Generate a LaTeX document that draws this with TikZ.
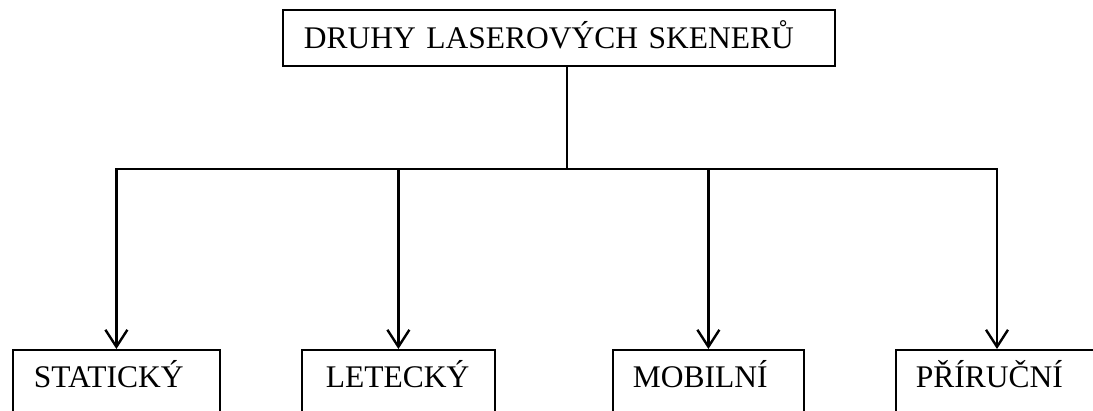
\documentclass[tikz,border=0pt]{standalone}
\usepackage{fontspec}
\setmainfont{Liberation Serif}
\usetikzlibrary{arrows.meta}

\tikzset{
  kind/.style={draw, line width=1.8pt, anchor=north west, inner xsep=21pt,
    inner ysep=0pt, align=left, font=\fontsize{31.5}{36}\selectfont,
    text height=38pt, text depth=60pt},
  branch/.style={line width=2.4pt},
  arr/.style={line width=2.4pt, -{Straight Barb[length=17pt,width=22pt]}}
}

\begin{document}
\begin{tikzpicture}[x=1pt,y=1pt]
        \clip (0,0) rectangle (1093,-411);
        % main box
        \node[kind, text height=39pt, text depth=17pt, text width=510pt] (druhy) at (282,-9) {DRUHY LASEROVÝCH SKENERŮ};
        % kinds
        \node[kind, text width=165pt] (stat) at (12,-349) {STATICKÝ};
        \node[kind, inner xsep=24pt, text width=145pt] (letec) at (301,-349) {LETECKÝ};
        \node[kind, inner xsep=20pt, text width=151pt] (mob) at (612,-349) {MOBILNÍ};
        \node[kind, inner xsep=20pt, text width=200pt] (prir) at (895,-349) {PŘÍRUČNÍ};
        \coordinate (prirtop) at ([xshift=102pt]prir.north west);
        % connectors
        \coordinate (hub) at (567,-169);
        \draw[branch] (druhy.south -| hub) -- (hub);
        \draw[branch, line cap=rect] (stat.north |- hub) -- (prirtop |- hub);
        \foreach \n in {stat.north,letec.north,mob.north,prirtop}
        \draw[arr] (\n |- hub) -- (\n);
    \end{tikzpicture}
\end{document}
